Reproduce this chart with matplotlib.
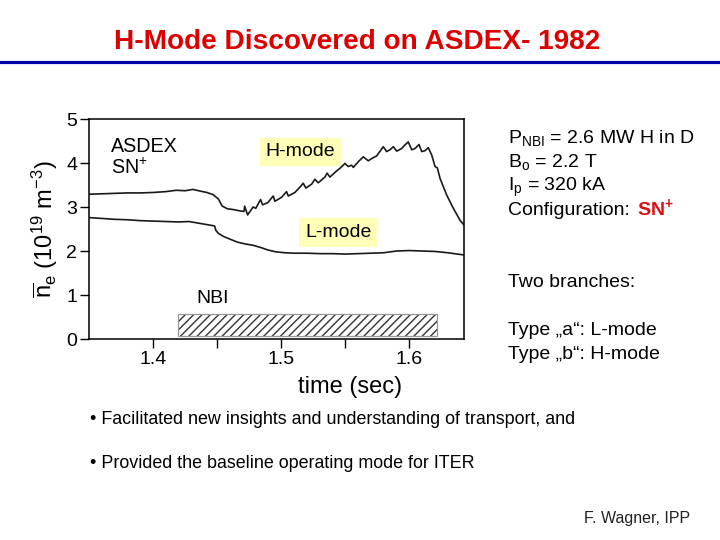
import matplotlib
matplotlib.use("Agg")
import matplotlib.pyplot as plt
from matplotlib.lines import Line2D
from matplotlib.patches import Rectangle

plt.rcParams["font.family"] = ["Liberation Sans", "DejaVu Sans"]
plt.rcParams["mathtext.fontset"] = "custom"
plt.rcParams["mathtext.rm"] = "Liberation Sans"
plt.rcParams["mathtext.it"] = "Liberation Sans:italic"
plt.rcParams["mathtext.bf"] = "Liberation Sans:bold"
plt.rcParams["hatch.linewidth"] = 1.0

# upper trace (type "b", H-mode)
h_time = [1.350, 1.360, 1.370, 1.380, 1.390, 1.400, 1.410, 1.418, 1.425, 1.431,
          1.437, 1.442, 1.447, 1.451, 1.454, 1.458, 1.463, 1.468, 1.471, 1.4715,
          1.4725, 1.4738, 1.4781, 1.4802, 1.4839, 1.4855, 1.4896, 1.4938, 1.4951,
          1.5003, 1.5042, 1.5055, 1.5107, 1.5146, 1.5172, 1.5193, 1.5238, 1.5263,
          1.5289, 1.5341, 1.5359, 1.5380, 1.5433, 1.5459, 1.5498, 1.5523, 1.5550,
          1.5563, 1.5602, 1.5641, 1.5680, 1.5706, 1.5745, 1.5797, 1.5823, 1.5849,
          1.5875, 1.5902, 1.5941, 1.5966, 1.5992, 1.6019, 1.6045, 1.6076, 1.6097,
          1.6123, 1.6148, 1.6175, 1.6201, 1.6219, 1.6240, 1.6292, 1.6344, 1.6396,
          1.6427]
h_dens = [3.29, 3.30, 3.31, 3.32, 3.32, 3.33, 3.35, 3.38, 3.37, 3.40,
          3.36, 3.33, 3.28, 3.18, 3.02, 2.96, 2.94, 2.91, 2.90, 3.02,
          2.93, 2.82, 3.00, 2.97, 3.17, 3.05, 3.10, 3.25, 3.13,
          3.22, 3.35, 3.25, 3.33, 3.45, 3.54, 3.43, 3.52, 3.63,
          3.55, 3.68, 3.77, 3.68, 3.82, 3.88, 3.99, 3.92, 3.95,
          3.90, 4.03, 4.14, 4.05, 4.10, 4.16, 4.37, 4.26, 4.30,
          4.37, 4.27, 4.33, 4.41, 4.48, 4.30, 4.33, 4.42, 4.26,
          4.28, 4.35, 4.18, 3.92, 3.89, 3.65, 3.27, 2.97, 2.70,
          2.59]

# lower trace (type "a", L-mode)
l_time = [1.350, 1.360, 1.370, 1.380, 1.390, 1.400, 1.410, 1.420, 1.428, 1.436,
          1.442, 1.448, 1.449, 1.451, 1.455, 1.460, 1.466, 1.472, 1.478, 1.484,
          1.490, 1.496, 1.503, 1.510, 1.520, 1.530, 1.540, 1.550, 1.560, 1.570,
          1.580, 1.590, 1.600, 1.610, 1.620, 1.630, 1.6427]
l_dens = [2.76, 2.74, 2.72, 2.71, 2.69, 2.68, 2.67, 2.66, 2.67, 2.63,
          2.60, 2.57, 2.47, 2.40, 2.33, 2.27, 2.20, 2.16, 2.13, 2.08,
          2.02, 1.98, 1.96, 1.95, 1.95, 1.94, 1.94, 1.93, 1.94, 1.95,
          1.96, 2.00, 2.01, 2.00, 1.99, 1.96, 1.91]

# NBI heating window
nbi_start, nbi_end = 1.4195, 1.6214
nbi_low, nbi_high = 0.06, 0.57

fig = plt.figure(figsize=(7.2, 5.4), dpi=100)

def px(x, y):
    return x / 720.0, 1 - y / 540.0

# slide title and rule
fig.text(*px(357, 49), "H-Mode Discovered on ASDEX- 1982", color="#DD0000",
         fontsize=20.2, fontweight="bold", ha="center", va="baseline")
fig.add_artist(Line2D([0, 1], [px(0, 62)[1]] * 2, color="#0000A8", lw=2.3))

ax = fig.add_axes([89 / 720, 201 / 540, 375 / 720, 220 / 540])
ax.plot(h_time, h_dens, color="#1a1a1a", lw=1.2)
ax.plot(l_time, l_dens, color="#1a1a1a", lw=1.2)
ax.add_patch(Rectangle((nbi_start, nbi_low), nbi_end - nbi_start, nbi_high - nbi_low,
                       facecolor="white", edgecolor="#333333", hatch="////", lw=0))
ax.add_patch(Rectangle((nbi_start, nbi_low), nbi_end - nbi_start, nbi_high - nbi_low,
                       facecolor="none", edgecolor="#999999", lw=0.9))

ax.set_xlim(1.35, 1.6427)
ax.set_ylim(0, 5)
ax.set_xticks([1.4, 1.5, 1.6])
ax.set_xticks([1.45, 1.55], minor=True)
ax.set_yticks([0, 1, 2, 3, 4, 5])
ax.tick_params(which="both", direction="out", length=6.5, width=1.0, labelsize=14, pad=2)
for s in ax.spines.values():
    s.set_linewidth(1.1)

ax.set_xlabel("time (sec)", fontsize=17)
ax.xaxis.set_label_coords(0.695, -0.167)
ax.set_ylabel(r"$\overline{\mathrm{n}}_\mathrm{e}$ (10$^{19}$ m$^{-3}$)", fontsize=17)
ax.yaxis.set_label_coords(-0.078, 0.5)

ax.text(1.3674, 4.24, "ASDEX", fontsize=14.2, va="baseline")
ax.text(1.3674, 3.74, r"SN$^{+}$", fontsize=14.2, va="baseline")
ax.text(1.515, 4.25, "H-mode", fontsize=14, ha="center", va="center",
        bbox=dict(boxstyle="square,pad=0.3", facecolor="#FFFFB8", edgecolor="none"))
ax.text(1.5445, 2.42, "L-mode", fontsize=14, ha="center", va="center",
        bbox=dict(boxstyle="square,pad=0.3", facecolor="#FFFFB8", edgecolor="none"))
ax.text(1.4464, 0.92, "NBI", fontsize=14, ha="center", va="center")

# parameters on the right
fs = 14
fig.text(*px(508, 143), r"P$_{\mathrm{NBI}}$ = 2.6 MW H in D", fontsize=fs, va="baseline")
fig.text(*px(508, 167), r"B$_{\mathrm{o}}$ = 2.2 T", fontsize=fs, va="baseline")
fig.text(*px(508, 191), r"I$_{\mathrm{p}}$ = 320 kA", fontsize=fs, va="baseline")
fig.text(*px(508, 215), "Configuration:", fontsize=fs, va="baseline")
fig.text(*px(637, 215), r"$\mathbf{SN}^{\mathbf{+}}$", fontsize=fs, va="baseline",
         color="#DD1111")
fig.text(*px(508, 287), "Two branches:", fontsize=fs, va="baseline")
fig.text(*px(508, 335), "Type \u201ea\u201c: L-mode", fontsize=fs, va="baseline")
fig.text(*px(508, 359), "Type \u201eb\u201c: H-mode", fontsize=fs, va="baseline")

# bullets
fig.text(*px(90, 420), "\u2022 Facilitated new insights and understanding of transport, and",
         fontsize=12.9, va="center")
fig.text(*px(90, 464), "\u2022 Provided the baseline operating mode for ITER",
         fontsize=12.9, va="center")
fig.text(*px(690, 518), "F. Wagner, IPP", fontsize=11.5, ha="right", va="center",
         color="#222222")

fig.savefig("out.png", dpi=100)
